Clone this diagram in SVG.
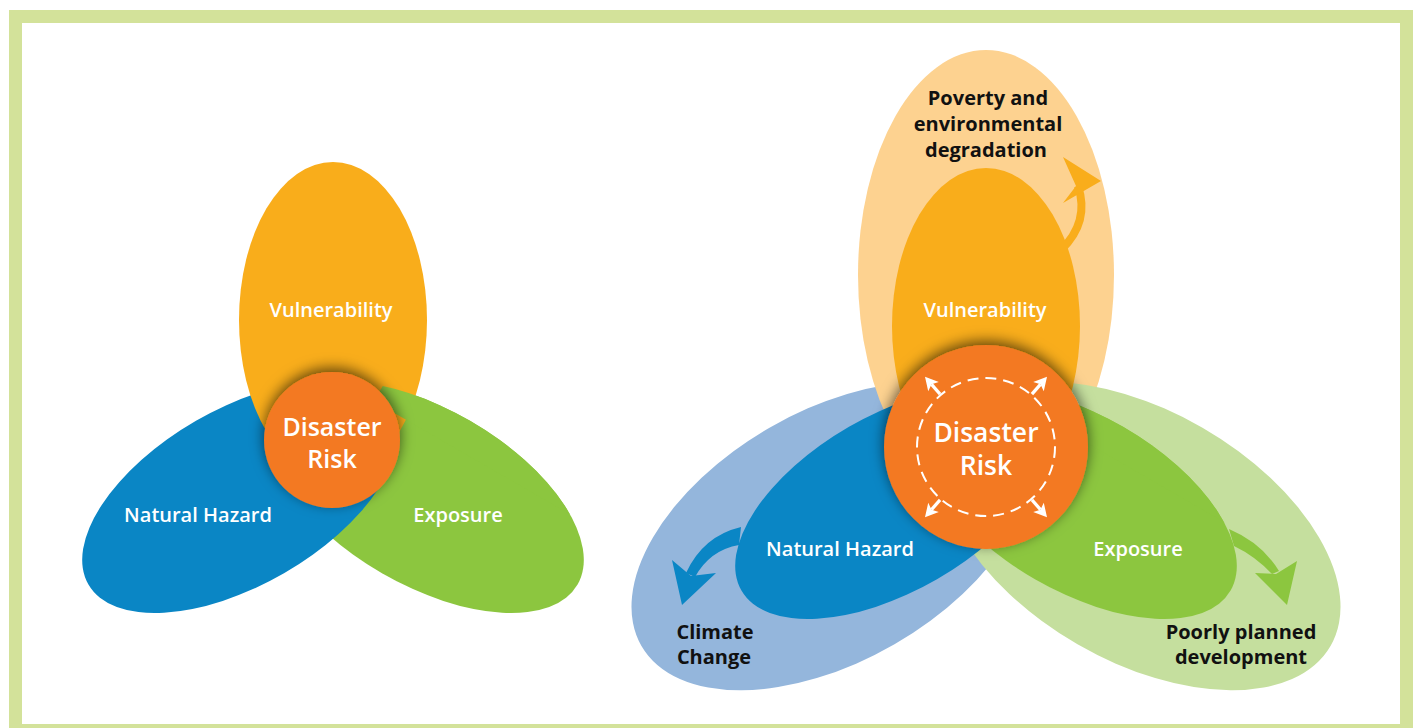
<svg xmlns="http://www.w3.org/2000/svg" xmlns:xlink="http://www.w3.org/1999/xlink" width="1417" height="728" viewBox="0 0 1417 728">
<style>
.lbl{font-family:"Open Sans","Liberation Sans",sans-serif;font-weight:600;font-size:20px;fill:#fff;text-anchor:middle}
.risk{font-family:"Open Sans","Liberation Sans",sans-serif;font-weight:600;fill:#fff;text-anchor:middle}
.dark{font-family:"Open Sans","Liberation Sans",sans-serif;font-weight:700;font-size:20px;fill:#111;text-anchor:middle}
.yel{fill:#f9ad1b}.blu{fill:#0a86c5}.grn{fill:#8cc63f}.org{fill:#f37920}
.pyel{fill:#fdd290}.pblu{fill:#94b6dc}.pgrn{fill:#c5df9e}
</style>
<defs>
<filter id="sh" x="-40%" y="-40%" width="180%" height="180%">
<feGaussianBlur in="SourceAlpha" stdDeviation="7"/>
<feOffset dy="-4" result="b"/>
<feFlood flood-color="#000" flood-opacity="0.6"/>
<feComposite in2="b" operator="in"/>
<feMerge><feMergeNode/><feMergeNode in="SourceGraphic"/></feMerge>
</filter>
<clipPath id="cl1"><rect x="333" y="250" width="300" height="190"/></clipPath>
<clipPath id="cl2"><rect x="986" y="250" width="300" height="197"/></clipPath>
<g id="wa" fill="#fff"><path d="M0,-1.6 H13 V1.6 H0 Z"/><path d="M10,-7 L23,0 L10,7 L13,0 Z"/></g>
</defs>
<rect x="9" y="10" width="1404" height="727" fill="#d3e29a"/>
<rect x="22" y="23" width="1378" height="701" fill="#fff"/>

<g id="left-diagram">
<g id="exposure-l"><ellipse class="grn" cx="426" cy="497" rx="175" ry="88" transform="rotate(30 426 497)"/></g>
<g id="hazard-l"><ellipse class="blu" cx="240" cy="497" rx="175" ry="88" transform="rotate(-30 240 497)"/></g>
<g id="vuln-l"><ellipse class="yel" cx="333" cy="320" rx="94" ry="158"/></g>
<ellipse class="grn" cx="426" cy="497" rx="175" ry="88" transform="rotate(30 426 497)" clip-path="url(#cl1)"/>
<g id="risk-l"><circle class="org" cx="332" cy="440" r="68" filter="url(#sh)"/>
<text class="risk" x="332" y="436" font-size="25">Disaster</text>
<text class="risk" x="332" y="468" font-size="25">Risk</text></g>
<text class="lbl" x="331" y="317">Vulnerability</text>
<text class="lbl" x="198" y="522">Natural Hazard</text>
<text class="lbl" x="458" y="522">Exposure</text>
</g>

<g id="right-diagram">
<g id="climate"><ellipse class="pblu" cx="832" cy="536" rx="220" ry="125" transform="rotate(-30 832 536)"/></g>
<g id="poverty"><ellipse class="pyel" cx="986" cy="275" rx="128" ry="225"/></g>
<g id="development"><ellipse class="pgrn" cx="1140" cy="536" rx="220" ry="125" transform="rotate(30 1140 536)"/></g>
<g id="exposure-r"><ellipse class="grn" cx="1079" cy="503" rx="175" ry="88" transform="rotate(30 1079 503)"/></g>
<g id="hazard-r"><ellipse class="blu" cx="893" cy="503" rx="175" ry="88" transform="rotate(-30 893 503)"/></g>
<g id="vuln-r"><ellipse class="yel" cx="986" cy="326" rx="94" ry="158"/></g>
<ellipse class="grn" cx="1079" cy="503" rx="175" ry="88" transform="rotate(30 1079 503)" clip-path="url(#cl2)"/>

<g id="connectors">
<path d="M1061,250 Q1090,222 1078,186" fill="none" stroke="#f9ad1b" stroke-width="8"/>
<polygon points="1101,181 1063,157 1076,186 1063,203" fill="#f9ad1b"/>
<path d="M741,527 Q703,536 686,573 L695,577 Q710,550 739,545 Z" fill="#0a86c5"/>
<polygon points="682,605 672,560 691,576 716,573" fill="#0a86c5"/>
<path d="M1229,529 Q1262,543 1279,571 L1272,574 Q1255,556 1234,546 Z" fill="#8cc63f"/>
<polygon points="1287,605 1255,573 1276,574 1297,561" fill="#8cc63f"/>
</g>

<g id="risk-r"><circle class="org" cx="986" cy="447" r="102" filter="url(#sh)"/>
<circle cx="986" cy="447" r="69" fill="none" stroke="#fff" stroke-width="2" stroke-dasharray="11 7"/>
<use xlink:href="#wa" transform="translate(986 447) rotate(-131) translate(70 0)"/>
<use xlink:href="#wa" transform="translate(986 447) rotate(-49) translate(70 0)"/>
<use xlink:href="#wa" transform="translate(986 447) rotate(131) translate(70 0)"/>
<use xlink:href="#wa" transform="translate(986 447) rotate(49) translate(70 0)"/>
<text class="risk" x="986" y="442" font-size="26.5">Disaster</text>
<text class="risk" x="986" y="475" font-size="26.5">Risk</text></g>
<text class="lbl" x="985" y="317">Vulnerability</text>
<text class="lbl" x="840" y="556">Natural Hazard</text>
<text class="lbl" x="1138" y="556">Exposure</text>
<text class="dark" x="988" y="105">Poverty and</text>
<text class="dark" x="988" y="131">environmental</text>
<text class="dark" x="986" y="157">degradation</text>
<text class="dark" x="715" y="639">Climate</text>
<text class="dark" x="714" y="664">Change</text>
<text class="dark" x="1241" y="639">Poorly planned</text>
<text class="dark" x="1241" y="664">development</text>
</g>
</svg>
